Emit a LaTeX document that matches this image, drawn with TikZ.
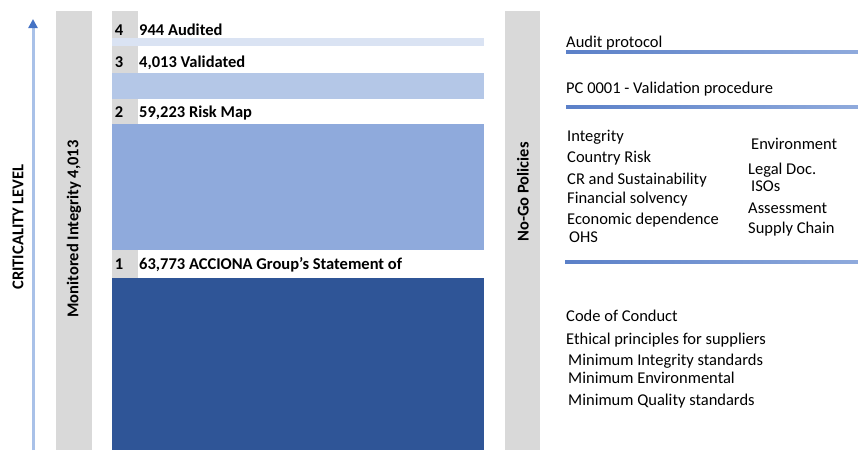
\documentclass[tikz,border=0pt]{standalone}
\usepackage{fontspec}
\setmainfont{Carlito}
\usetikzlibrary{arrows.meta}
\definecolor{graybar}{HTML}{D9D9D9}
\definecolor{barfour}{HTML}{DAE3F3}
\definecolor{barthree}{HTML}{B4C7E7}
\definecolor{bartwo}{HTML}{8FAADC}
\definecolor{barone}{HTML}{2F5597}
\definecolor{arrowshaft}{HTML}{A9C1E8}
\definecolor{arrowhead}{HTML}{4472C4}
\definecolor{ruledark}{HTML}{5B80C8}
\definecolor{rulelight}{HTML}{8FAADC}
\tikzset{
  txt/.style={inner sep=0pt, anchor=base west, font=\fontsize{16.5}{20}\selectfont},
  btxt/.style={txt, font=\fontsize{16.5}{20}\selectfont\bfseries},
  vtxt/.style={inner sep=0pt, rotate=90, font=\fontsize{16.5}{20}\selectfont\bfseries},
  rowbar/.style={fill=#1, draw=none},
}
\begin{document}
\begin{tikzpicture}[x=1pt,y=-1pt]
\useasboundingbox (0,0) rectangle (858,450);
% criticality arrow
\coordinate (arrbot) at (33,450);
\coordinate (arrtop) at (33,19);
\draw[arrowshaft, line width=3pt, -{Triangle[length=9pt,width=9pt,color=arrowhead]}] (arrbot) -- (arrtop);
\node[vtxt] (crit) at (18,227) {CRITICALITY LEVEL};
% monitored bar
\fill[graybar] (56,11) rectangle (92,450);
\node[vtxt] (monit) at (74,229) {Monitored Integrity 4,013};
% number strip
\fill[graybar] (112,11) rectangle (138,278);
% bars
\fill[rowbar=barfour] (112,38) rectangle (484,46);
\fill[rowbar=barthree] (112,73) rectangle (484,99);
\fill[rowbar=bartwo] (112,124) rectangle (484,250);
\fill[rowbar=barone] (112,278) rectangle (484,450);
% row labels
\node[btxt, anchor=base] (n4) at (119,35) {4};
\node[btxt] (l4) at (139,35) {944 Audited};
\node[btxt, anchor=base] (n3) at (119,67) {3};
\node[btxt] (l3) at (139,67) {4,013 Validated};
\node[btxt, anchor=base] (n2) at (119,117) {2};
\node[btxt] (l2) at (139,117) {59,223 Risk Map};
\node[btxt, anchor=base] (n1) at (119,269) {1};
\node[btxt] (l1) at (139,269) {63,773 ACCIONA Group’s Statement of};
% no-go bar
\fill[graybar] (505,11) rectangle (540,450);
\node[vtxt] (nogo) at (523,192) {No-Go Policies};
% right texts
\node[txt] (audit) at (566,47) {Audit protocol};
\shade[left color=ruledark, right color=rulelight] (566,50.8) rectangle (858,53.2);
\node[txt] (pc) at (566,93) {PC 0001 - Validation procedure};
\shade[left color=ruledark, right color=rulelight] (566,105.8) rectangle (858,108.2);
\node[txt] (integ) at (567,141) {Integrity};
\node[txt] (cntry) at (567,162) {Country Risk};
\node[txt] (crsus) at (567,184) {CR and Sustainability};
\node[txt] (finan) at (567,203) {Financial solvency};
\node[txt] (econ) at (567,224) {Economic dependence};
\node[txt] (ohs) at (569,242) {OHS};
\node[txt] (env) at (751,149) {Environment};
\node[txt] (legal) at (748,174) {Legal Doc.};
\node[txt] (isos) at (751,191) {ISOs};
\node[txt] (asses) at (748,213) {Assessment};
\node[txt] (supply) at (748,233) {Supply Chain};
\shade[left color=ruledark, right color=rulelight] (565,260.8) rectangle (858,263.2);
\node[txt] (coc) at (566,321) {Code of Conduct};
\node[txt] (ethic) at (566,344) {Ethical principles for suppliers};
\node[txt] (minint) at (568,365) {Minimum Integrity standards};
\node[txt] (minenv) at (568,383) {Minimum Environmental};
\node[txt] (minq) at (568,405) {Minimum Quality standards};
\end{tikzpicture}
\end{document}
